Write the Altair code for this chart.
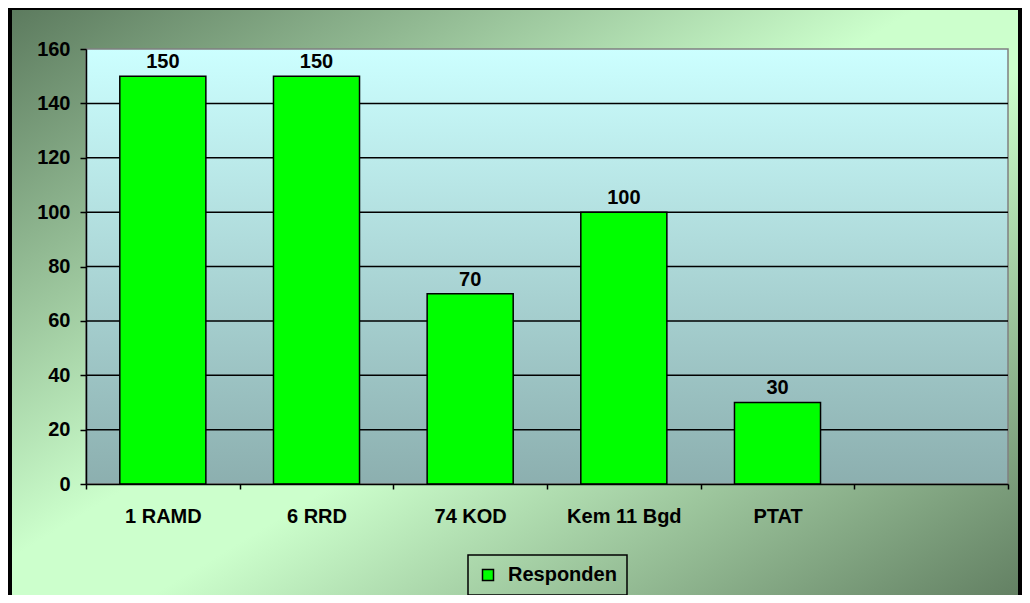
import altair as alt
import pandas as pd

categories = ["1 RAMD", "6 RRD", "74 KOD", "Kem 11 Bgd", "PTAT"]
values = [150, 150, 70, 100, 30]
axis_slots = categories + [" "]
series_name = "Responden"
grid_values = [20, 40, 60, 80, 100, 120, 140]
y_ticks = [0, 20, 40, 60, 80, 100, 120, 140, 160]

W, H = 922, 435
FONT = "Liberation Sans"

df = pd.DataFrame({"cat": categories, "val": values, "series": [series_name] * len(categories)})
grid_df = pd.DataFrame({"val": grid_values})
one = pd.DataFrame({"a": [0]})

outer_grad = alt.Gradient(
    gradient="linear",
    stops=[
        alt.GradientStop(color="#5c7a5e", offset=0),
        alt.GradientStop(color="#ccffcc", offset=0.45),
        alt.GradientStop(color="#ccffcc", offset=0.55),
        alt.GradientStop(color="#5e7a5e", offset=1),
    ],
    x1=0, y1=0, x2=1, y2=1,
)
plot_grad = alt.Gradient(
    gradient="linear",
    stops=[
        alt.GradientStop(color="#ccffff", offset=0),
        alt.GradientStop(color="#8cafaf", offset=1),
    ],
    x1=0, y1=0, x2=0, y2=1,
)

yscale = alt.Scale(domain=[0, 160], nice=False, zero=True)
xscale = alt.Scale(domain=axis_slots, paddingInner=0, paddingOuter=0)

yaxis = alt.Axis(values=y_ticks, domainColor="black", domainWidth=1.5, tickColor="black",
                 tickWidth=1.5, tickSize=6, labelPadding=10, labelFont=FONT,
                 labelFontSize=20, labelFontWeight="bold", labelColor="black",
                 zindex=1, grid=False, title=None)
xaxis = alt.Axis(tickBand="extent", labelAngle=0, domainColor="black", domainWidth=1.5,
                 tickColor="black", tickWidth=1.5, tickSize=5, labelPadding=33,
                 labelBaseline="alphabetic", labelFont=FONT, labelFontSize=20,
                 labelFontWeight="bold", labelColor="black", zindex=1, grid=False, title=None)

outer = alt.Chart(one).mark_rect(fill=outer_grad, stroke="black", strokeWidth=4).encode(
    x=alt.value(-76), x2=alt.value(934), y=alt.value(-41), y2=alt.value(571)
)
plotbg = alt.Chart(one).mark_rect(fill=plot_grad, stroke="#808080", strokeWidth=1.5).encode(
    x=alt.value(0), x2=alt.value(W), y=alt.value(0), y2=alt.value(H)
)
grid = alt.Chart(grid_df).mark_rule(color="black", strokeWidth=1.5).encode(
    y=alt.Y("val:Q", scale=yscale, axis=yaxis), x=alt.value(0), x2=alt.value(W)
)

bars = alt.Chart(df).mark_bar(
    stroke="black", strokeWidth=1.5, width=alt.RelativeBandSize(0.56)
).encode(
    x=alt.X("cat:N", scale=xscale, sort=None, axis=xaxis),
    y=alt.Y("val:Q", scale=yscale, axis=yaxis),
    color=alt.Color("series:N", scale=alt.Scale(domain=[series_name], range=["#00ff00"]),
                    legend=alt.Legend(orient="none", legendX=382, legendY=506, title=None,
                                      strokeColor="black", padding=10, clipHeight=20,
                                      symbolType="square",
                                      symbolSize=121, symbolStrokeColor="black",
                                      symbolStrokeWidth=1.5, labelFont=FONT, labelFontSize=20,
                                      labelFontWeight="bold", labelColor="black", labelOffset=10)),
)

labels = alt.Chart(df).mark_text(
    font=FONT, fontSize=20, fontWeight="bold", dy=-8, baseline="alphabetic", color="black"
).encode(
    x=alt.X("cat:N", scale=xscale, sort=None, axis=xaxis),
    y=alt.Y("val:Q", scale=yscale, axis=yaxis),
    text=alt.Text("val:Q"),
)

chart = alt.layer(outer, plotbg, grid, bars, labels).properties(
    width=W, height=H,
    autosize=alt.AutoSizeParams(type="none"),
    padding={"left": 78, "top": 41, "right": 14, "bottom": 111},
).configure_view(stroke=None).configure_legend(strokeWidth=1.5)

chart.save("out.html", embed_options={"renderer": "svg", "actions": False})
